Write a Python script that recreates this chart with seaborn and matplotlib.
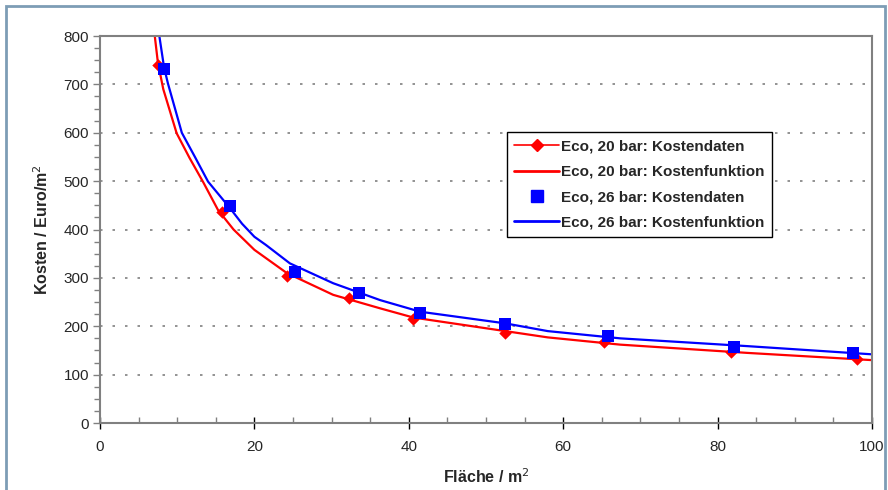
import matplotlib
matplotlib.use("Agg")
import matplotlib.pyplot as plt
import seaborn as sns
from matplotlib.lines import Line2D
from matplotlib.patches import Rectangle
from matplotlib.ticker import MultipleLocator

# --- Data ---
# Eco, 20 bar: Kostendaten
area_20 = [7.5, 15.8, 24.2, 32.3, 40.6, 52.5, 65.3, 81.7, 98.0]
cost_20 = [741, 437, 304, 258, 215, 187, 168, 147, 132]
# Eco, 26 bar: Kostendaten
area_26 = [8.3, 16.8, 25.2, 33.5, 41.5, 52.5, 65.8, 82.1, 97.5]
cost_26 = [731, 448, 313, 268, 227, 204, 180, 158, 144]

# Kostenfunktion curves
fit_area_20 = [6.95, 7.5, 8.2, 9.93, 11.6, 13.4, 15.3, 17.3, 20.0, 24.2, 30.2, 36.3, 40.6,
               52.5, 58.0, 67.4, 83.8, 100]
fit_cost_20 = [820, 745, 690, 599, 548, 497, 440, 400, 358, 310, 265, 237, 218,
               190, 177, 162, 145, 130]
fit_area_26 = [7.5, 8.3, 8.8, 10.6, 12.3, 14.0, 16.8, 18.4, 20.0, 21.5, 24.6, 30.2, 36.3,
               41.5, 52.5, 58.0, 67.4, 83.8, 100]
fit_cost_26 = [820, 735, 702, 600, 550, 499, 445, 412, 385, 368, 330, 289, 254,
               230, 206, 190, 175, 159, 142]

labels = ["Eco, 20 bar: Kostendaten", "Eco, 20 bar: Kostenfunktion",
          "Eco, 26 bar: Kostendaten", "Eco, 26 bar: Kostenfunktion"]

RED = "#ff0000"
BLUE = "#0000ff"
GRID = "#808080"

sns.set_style("white")
plt.rcParams['font.family'] = ['Liberation Sans', 'DejaVu Sans']

fig = plt.figure(figsize=(8.88, 4.9), dpi=100)
ax = fig.add_axes([0.1126, 0.1367, 0.8694, 0.7898])

# --- Curves ---
sns.lineplot(x=fit_area_20, y=fit_cost_20, color=RED, lw=1.6, ax=ax, sort=False)
sns.lineplot(x=fit_area_26, y=fit_cost_26, color=BLUE, lw=1.6, ax=ax, sort=False)

# --- Data points ---
sns.scatterplot(x=area_20, y=cost_20, color=RED, marker="D", s=40, edgecolor=RED, linewidth=0, ax=ax, zorder=4)
sns.scatterplot(x=area_26, y=cost_26, color=BLUE, marker="s", s=85, edgecolor=BLUE, linewidth=0, ax=ax, zorder=5)

ax.set_xlim(0, 100)
ax.set_ylim(0, 800)
ax.xaxis.set_major_locator(MultipleLocator(20))
ax.xaxis.set_minor_locator(MultipleLocator(5))
ax.yaxis.set_major_locator(MultipleLocator(100))
ax.yaxis.set_minor_locator(MultipleLocator(25))

ax.tick_params(axis="x", which="major", direction="inout", length=8, width=1, color="black",
               labelsize=11, pad=8)
ax.tick_params(axis="x", which="minor", direction="in", length=4, width=1, color=GRID)
ax.tick_params(axis="y", which="major", direction="out", length=5, width=1, color=GRID,
               labelsize=11, pad=3)
ax.tick_params(axis="y", which="minor", direction="out", length=4, width=1, color=GRID)
ax.tick_params(which="both", left=True, bottom=True)

for side in ["left", "bottom", "top", "right"]:
    ax.spines[side].set_color(GRID)
    ax.spines[side].set_linewidth(1.5)

# dotted horizontal grid
for yv in range(100, 800, 100):
    ax.axhline(yv, color=GRID, lw=1.2, ls=(0, (1.5, 6)), zorder=0)

ax.set_xlabel("Fläche / m$^2$", fontsize=11.5, fontweight="bold", labelpad=10)
ax.set_ylabel("Kosten / Euro/m$^2$", fontsize=11.5, fontweight="bold", labelpad=9)

# --- Legend ---
handles = [
    Line2D([], [], color=RED, lw=1.2, marker="D", markersize=6),
    Line2D([], [], color=RED, lw=2),
    Line2D([], [], color=BLUE, lw=0, marker="s", markersize=9),
    Line2D([], [], color=BLUE, lw=2),
]
leg = ax.legend(handles, labels, loc="upper left", bbox_to_anchor=(0.527, 0.752),
                fancybox=False, frameon=True, edgecolor="black", framealpha=1,
                prop={"weight": "bold", "size": 11}, handlelength=2.9,
                handletextpad=0.15, labelspacing=0.74, borderpad=0.5, borderaxespad=0)
leg.get_frame().set_linewidth(1.0)

# outer figure frame
fig.patches.append(Rectangle((6 / 888, -0.01), 879 / 888, 1 - 6 / 490 + 0.01,
                             transform=fig.transFigure, fill=False,
                             edgecolor="#7d9db5", lw=2))

fig.savefig("out.png", dpi=100)
